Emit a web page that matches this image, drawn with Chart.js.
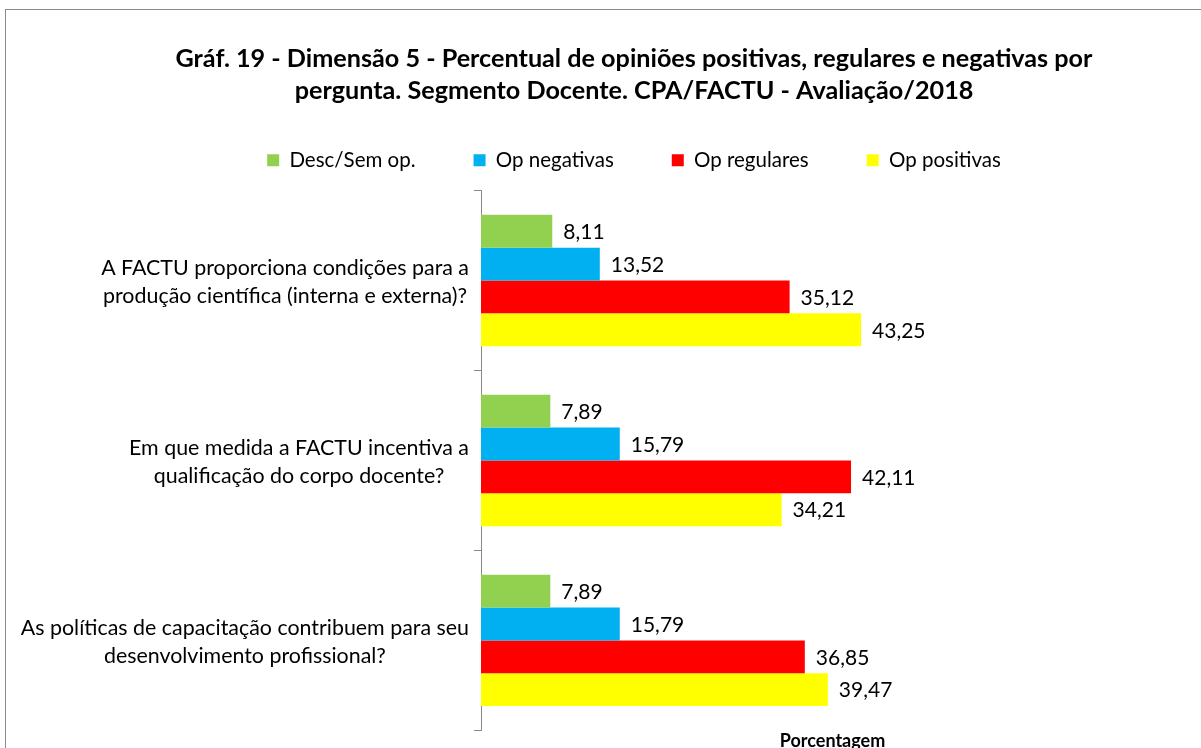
<!DOCTYPE html>
<html>
<head>
<meta charset="utf-8">
<script src="https://cdn.jsdelivr.net/npm/chart.js@4.4.1/dist/chart.umd.min.js"></script>
<style>
  html, body { margin: 0; padding: 0; background: #fff; overflow: hidden; }
  #wrap { position: absolute; left: 5px; top: 9px; width: 1256px; height: 742px;
          border-left: 1px solid #8a8a8a; border-top: 1px solid #8a8a8a; }
  canvas { display: block; }
</style>
</head>
<body>
<div id="wrap"><canvas id="c" width="1256" height="742"></canvas></div>
<script>
const categories = [
  ["A FACTU proporciona condições para a", "produção científica (interna e externa)?"],
  ["Em que medida a FACTU incentiva a", "qualificação do corpo docente?"],
  ["As políticas de capacitação contribuem para seu", "desenvolvimento profissional?"]
];
const seriesNames = ["Desc/Sem op.", "Op negativas", "Op regulares", "Op positivas"];
const descSemOp   = [8.11, 7.89, 7.89];
const opNegativas = [13.52, 15.79, 15.79];
const opRegulares = [35.12, 42.11, 36.85];
const opPositivas = [43.25, 34.21, 39.47];
const seriesColors = ["#92D050", "#00B0F0", "#FF0000", "#FFFF00"];
const titleLines = [
  "Gráf. 19 - Dimensão 5 - Percentual de opiniões positivas, regulares e negativas por",
  "pergunta. Segmento Docente. CPA/FACTU - Avaliação/2018"
];
const xTitle = "Porcentagem";

const FONT = "Lato, 'Open Sans', sans-serif";
const SIDE = 78;

const valueLabels = {
  id: 'valueLabels',
  afterDatasetsDraw(chart) {
    const ctx = chart.ctx;
    ctx.save();
    ctx.font = "21px " + FONT;
    ctx.fillStyle = "#000";
    ctx.textAlign = "left";
    ctx.textBaseline = "middle";
    chart.data.datasets.forEach((ds, i) => {
      const meta = chart.getDatasetMeta(i);
      meta.data.forEach((bar, j) => {
        const v = ds.data[j];
        ctx.fillText(v.toFixed(2).replace('.', ','), bar.x + 11, bar.y + 1);
      });
    });
    ctx.restore();
  }
};

// Category labels: each multi-line block centred on itself, block right-aligned to the axis
const categoryLabels = {
  id: 'categoryLabels',
  afterDraw(chart) {
    const scale = chart.scales.y;
    const ctx = chart.ctx;
    const lineH = 28;
    ctx.save();
    ctx.font = "21.4px " + FONT;
    ctx.fillStyle = "#000";
    ctx.textAlign = "center";
    ctx.textBaseline = "middle";
    chart.data.labels.forEach((lab, i) => {
      const lines = Array.isArray(lab) ? lab : [lab];
      const widest = Math.max(...lines.map(l => ctx.measureText(l).width));
      const cx = scale.right - 12 - widest / 2;
      const cy = scale.getPixelForTick(i) + 2;
      lines.forEach((l, k) => {
        ctx.fillText(l, cx, cy + (k - (lines.length - 1) / 2) * lineH);
      });
    });
    ctx.restore();
  }
};

new Chart(document.getElementById('c'), {
  type: 'bar',
  data: {
    labels: categories,
    datasets: [descSemOp, opNegativas, opRegulares, opPositivas].map((d, i) => ({
      label: seriesNames[i],
      data: d,
      backgroundColor: seriesColors[i],
      borderWidth: 0,
      categoryPercentage: 0.73,
      barPercentage: 1.0
    }))
  },
  options: {
    indexAxis: 'y',
    responsive: false,
    animation: false,
    layout: { padding: { left: SIDE, right: SIDE, top: 33, bottom: 0 } },
    plugins: {
      title: {
        display: true,
        text: titleLines,
        color: "#000",
        font: { family: FONT, size: 25.2, weight: 'bold', lineHeight: 1.27 },
        padding: { top: 0, bottom: -15 }
      },
      subtitle: {
        display: true,
        text: ' ',
        weight: 500,
        font: { size: 1, lineHeight: 1 },
        padding: { top: 9, bottom: 0 }
      },
      legend: {
        display: true,
        position: 'top',
        labels: {
          color: "#000",
          font: { family: FONT, size: 20.5 },
          boxWidth: 12,
          boxHeight: 12,
          padding: 58
        }
      },
      tooltip: { enabled: false }
    },
    scales: {
      x: {
        min: 0, max: 80,
        ticks: { display: false },
        grid: { display: false, drawTicks: false, tickLength: 0 },
        border: { display: false },
        title: {
          display: true, text: xTitle, color: "#000",
          font: { family: FONT, size: 18, weight: 'bold', lineHeight: 1.2 },
          padding: { top: 0, bottom: 0 }
        }
      },
      y: {
        afterFit(s) {
          s.width = 475 - SIDE;
          s.paddingTop = 0;
          s.paddingBottom = 0;
        },
        ticks: { display: false },
        grid: {
          display: true, drawOnChartArea: false, offset: true,
          tickLength: 7, color: "#8a8a8a"
        },
        border: { display: true, color: "#8a8a8a" }
      }
    }
  },
  plugins: [valueLabels, categoryLabels]
});
</script>
</body>
</html>
